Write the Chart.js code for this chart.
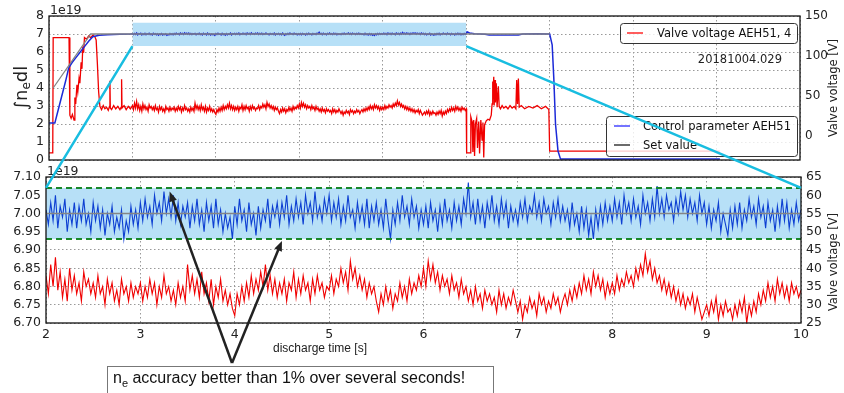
<!DOCTYPE html>
<html>
<head>
<meta charset="utf-8">
<script src="https://cdn.jsdelivr.net/npm/chart.js@4.4.1/dist/chart.umd.min.js"></script>
<style>
  html, body { margin: 0; padding: 0; background: #fff; }
  #wrap { position: relative; width: 844px; height: 393px; }
  #wrap canvas { position: absolute; left: 0; top: 0; }
</style>
</head>
<body>
<div id="wrap">
  <canvas id="overviewChart" width="844" height="393"></canvas>
  <canvas id="zoomChart" width="844" height="393"></canvas>
</div>
<script>
// Zoomed window 2..10 s, one sample every 0.025 s
const zoomStart = 2;
const zoomStep = 0.025;

// line integrated density, 1e19 (one row = 0.5 s)
const zoomDensity = [
  7.01, 6.97, 7.03, 6.98, 7.05, 6.96, 7.02, 6.99, 7.04, 6.95, 7.01, 6.97, 7.03, 6.96, 7.02, 6.98, 7.04, 6.97, 7.00, 6.95,
  7.03, 6.98, 7.02, 6.96, 7.01, 6.94, 7.00, 6.97, 7.02, 6.95, 6.99, 6.96, 7.01, 6.93, 6.98, 6.95, 7.02, 6.97, 7.01, 6.96,
  7.03, 6.98, 7.04, 6.99, 7.02, 6.97, 7.05, 7.00, 7.03, 6.98, 7.06, 7.00, 7.04, 6.99, 7.05, 6.98, 7.03, 6.97, 7.02, 6.99,
  7.03, 6.96, 7.02, 6.98, 7.04, 6.97, 7.01, 6.95, 7.03, 6.98, 7.02, 6.96, 7.04, 6.97, 7.01, 6.95, 7.00, 6.96, 6.99, 6.93,
  7.02, 6.97, 7.04, 6.98, 7.01, 6.95, 7.03, 6.97, 7.00, 6.94, 7.02, 6.96, 7.01, 6.98, 7.04, 6.96, 7.02, 6.99, 7.03, 6.97,
  7.03, 6.99, 7.05, 6.97, 7.02, 6.98, 7.04, 6.99, 7.03, 6.97, 7.05, 7.00, 7.03, 6.98, 7.06, 6.99, 7.02, 6.98, 7.04, 7.00,
  7.05, 6.98, 7.03, 6.99, 7.04, 6.97, 7.02, 6.98, 7.05, 6.99, 7.01, 6.96, 7.03, 6.98, 7.02, 6.97, 7.04, 6.96, 7.02, 6.98,
  7.03, 6.97, 7.01, 6.96, 7.04, 6.98, 6.93, 7.01, 6.97, 7.03, 6.98, 7.05, 6.99, 7.02, 6.97, 7.04, 6.99, 7.02, 6.96, 7.01,
  6.97, 7.02, 6.96, 7.03, 6.98, 7.01, 6.95, 7.02, 6.97, 7.04, 6.98, 7.01, 6.96, 7.03, 6.98, 7.02, 6.97, 7.04, 7.00, 7.085,
  6.99, 7.03, 6.97, 7.04, 6.98, 7.02, 6.96, 7.03, 6.99, 7.05, 6.98, 7.02, 6.97, 7.04, 6.99, 7.03, 6.96, 7.02, 6.98, 7.01,
  6.97, 7.03, 6.99, 7.04, 6.98, 7.02, 7.00, 7.05, 6.99, 7.03, 6.98, 7.04, 7.00, 7.02, 6.97, 7.03, 6.99, 7.04, 6.98, 7.02,
  6.98, 7.01, 6.96, 7.03, 6.97, 7.00, 6.95, 7.02, 6.96, 7.01, 6.94, 6.99, 6.93, 7.01, 6.96, 7.02, 6.97, 7.03, 6.98, 7.02,
  6.98, 7.04, 6.99, 7.03, 6.97, 7.05, 7.00, 7.03, 6.98, 7.04, 6.99, 7.02, 6.97, 7.05, 7.00, 7.03, 6.98, 7.04, 6.99, 7.075,
  7.00, 7.04, 6.99, 7.05, 7.01, 7.03, 6.98, 7.04, 7.00, 7.06, 7.01, 7.05, 6.99, 7.04, 7.00, 7.03, 6.98, 7.05, 7.00, 7.03,
  6.97, 7.02, 6.96, 7.01, 6.98, 7.03, 6.95, 7.00, 6.97, 6.94, 7.01, 6.96, 7.02, 6.97, 7.03, 6.96, 7.01, 6.98, 7.04, 6.99,
  7.02, 6.97, 7.04, 6.99, 7.02, 6.96, 7.03, 6.98, 7.01, 6.95, 7.02, 6.97, 7.04, 6.98, 7.03, 6.96, 7.01, 6.97, 7.03, 6.98,
  7.01
];

// valve voltage, V (one row = 0.5 s)
const zoomValve = [
  38, 33, 41, 35, 43, 34, 39, 32, 37, 31, 40, 34, 38, 33, 36, 31, 39, 35, 37, 33,
  36, 32, 38, 33, 35, 30, 37, 33, 36, 31, 34, 30, 37, 33, 35, 31, 36, 32, 35, 33,
  36, 31, 35, 32, 37, 33, 36, 30, 35, 32, 38, 33, 35, 31, 34, 30, 36, 32, 35, 31,
  41, 34, 38, 33, 37, 32, 39, 33, 36, 31, 37, 30, 35, 32, 37, 31, 34, 30, 33, 29,
  27, 33, 30, 35, 31, 36, 32, 38, 33, 37, 34, 39, 35, 41, 34, 38, 33, 37, 32, 36,
  33, 37, 31, 36, 34, 39, 32, 37, 33, 38, 34, 36, 31, 37, 33, 38, 34, 36, 32, 35,
  34, 38, 33, 37, 35, 40, 36, 39, 34, 42, 37, 40, 35, 38, 34, 37, 32, 36, 33, 35,
  31, 28, 33, 30, 35, 31, 34, 29, 33, 31, 36, 32, 35, 31, 37, 33, 36, 34, 38, 35,
  40, 35, 42, 37, 41, 36, 39, 34, 38, 35, 37, 33, 38, 34, 36, 32, 37, 33, 35, 31,
  34, 30, 35, 31, 33, 29, 34, 31, 33, 30, 32, 28, 34, 30, 33, 29, 32, 30, 34, 31,
  28, 31, 26, 30, 28, 32, 29, 31, 27, 33, 30, 32, 28, 31, 29, 33, 30, 32, 28, 31,
  33, 30, 34, 31, 35, 32, 36, 33, 38, 34, 37, 33, 39, 35, 38, 34, 37, 32, 36, 33,
  36, 33, 38, 34, 37, 35, 39, 36, 38, 35, 40, 37, 41, 38, 44, 39, 42, 37, 40, 36,
  38, 34, 37, 33, 36, 32, 35, 31, 34, 30, 33, 29, 32, 30, 33, 28, 32, 29, 26, 28,
  30, 27, 31, 28, 32, 26, 30, 27, 31, 28, 29, 26, 30, 27, 31, 28, 32, 25, 30, 27,
  31, 28, 33, 30, 34, 31, 36, 32, 35, 31, 37, 33, 36, 32, 35, 31, 36, 33, 35, 32,
  34
];

// Overview traces outside the zoom window, [time s, value]
const valveBefore = [
  [0, -21], [0.09, -21], [0.1, 123], [0.48, 123], [0.5, 26], [0.53, 22], [0.56, 27], [0.6, 20],
  [0.62, 48], [0.64, 40], [0.67, 64], [0.69, 55], [0.72, 72], [0.74, 66], [0.77, 92], [0.79, 84],
  [0.81, 112], [0.83, 104], [0.85, 123], [0.9, 121], [0.95, 125], [1.0, 123], [1.05, 126], [1.1, 124],
  [1.13, 120], [1.16, 90], [1.19, 55], [1.22, 37], [1.26, 33], [1.3, 38], [1.34, 34], [1.38, 36],
  [1.42, 32], [1.45, 37], [1.46, 69], [1.47, 35], [1.5, 33], [1.55, 38], [1.6, 34], [1.65, 37],
  [1.7, 33], [1.73, 36], [1.74, 71], [1.75, 35], [1.8, 38], [1.85, 33], [1.9, 37], [1.95, 34]
];
const valveAfter = [
  [10.01, -21], [10.1, -21], [10.11, 24], [10.14, 18], [10.16, -20], [10.18, 20], [10.2, -25], [10.22, 15],
  [10.25, 22], [10.27, -15], [10.3, 18], [10.32, -22], [10.35, 20], [10.38, -5], [10.4, 17], [10.42, -27],
  [10.44, 14], [10.48, 19], [10.52, 21], [10.56, 20], [10.6, 26], [10.62, 40], [10.63, 68], [10.64, 45],
  [10.66, 74], [10.67, 38], [10.69, 70], [10.7, 42], [10.72, 66], [10.74, 36], [10.77, 62], [10.79, 37],
  [10.82, 34], [10.86, 38], [10.9, 35], [10.95, 37], [11.0, 34], [11.05, 38], [11.1, 35], [11.15, 37],
  [11.19, 34], [11.21, 70], [11.23, 40], [11.25, 72], [11.27, 36], [11.32, 38], [11.4, 34], [11.5, 37],
  [11.6, 35], [11.7, 38], [11.8, 34], [11.9, 37], [11.98, 33], [12.0, -19], [16.08, -19]
];
const densityBefore = [
  [0, 2.05], [0.14, 2.05], [0.2, 2.6], [0.3, 3.5], [0.4, 4.4], [0.47, 5.1], [0.55, 5.4], [0.65, 5.7],
  [0.75, 6.0], [0.85, 6.3], [0.95, 6.6], [1.05, 6.85], [1.2, 6.93], [1.4, 6.96], [1.7, 6.98], [1.95, 7.0]
];
const densityAfter = [
  [10.02, 7.12], [10.08, 7.06], [10.2, 7.02], [10.45, 6.99], [10.55, 6.95], [11.0, 6.94], [11.25, 6.95],
  [11.35, 7.0], [11.7, 7.01], [12.0, 7.0], [12.06, 6.4], [12.1, 4.5], [12.14, 2.0], [12.2, 0.5],
  [12.26, 0.05], [16.08, 0.05]
];
const setValue = [[0.1, 4.0], [1.0, 7.0], [12.0, 7.0]];

const zoomWindow = [2, 10];         // s
const zoomBox = [6.33, 7.63];       // marked box in the overview, 1e19
const accuracyBand = [6.93, 7.07];  // +-1 % around the set value
const setLevel = 7.0;
const valveTicksTop = [0, 50, 100, 150];

Chart.defaults.font.family = "'DejaVu Sans', sans-serif";
Chart.defaults.font.size = 12;
Chart.defaults.color = '#222';

const toPoints = pairs => pairs.map(([x, y]) => ({ x, y }));
const zoomTimes = zoomDensity.map((_, i) => +(zoomStart + i * zoomStep).toFixed(3));
const zoomDensityPts = zoomDensity.map((y, i) => ({ x: zoomTimes[i], y }));
const zoomValvePts = zoomValve.map((y, i) => ({ x: zoomTimes[i], y }));
const flat = (y, range) => [{ x: range[0], y }, { x: range[1], y }];

const dottedGrid = { color: '#999', lineWidth: 1, drawTicks: false };
const dottedBorder = { display: false, dash: [1.5, 2.5] };

function drawParts(ctx, parts, x, y) {
    // parts: [text, fontSize, baselineShift, family]
    let total = 0;
    parts.forEach(p => { ctx.font = p[1] + 'px ' + p[3]; total += ctx.measureText(p[0]).width; });
    let cx = x - total / 2;
    parts.forEach(p => {
        ctx.font = p[1] + 'px ' + p[3];
        ctx.fillText(p[0], cx, y + p[2]);
        cx += ctx.measureText(p[0]).width;
    });
}

function rotatedText(ctx, text, x, y, font) {
    ctx.save();
    ctx.translate(x, y);
    ctx.rotate(-Math.PI / 2);
    ctx.font = font;
    ctx.textAlign = 'center';
    ctx.textBaseline = 'middle';
    ctx.fillText(text, 0, 0);
    ctx.restore();
}

function legendBox(ctx, x, y, w, h, items, lineX, textX) {
    ctx.save();
    ctx.beginPath();
    ctx.roundRect(x + 0.5, y + 0.5, w, h, 3);
    ctx.fillStyle = 'rgba(255,255,255,0.8)';
    ctx.fill();
    ctx.strokeStyle = '#333';
    ctx.lineWidth = 1;
    ctx.stroke();
    ctx.font = "11.5px 'DejaVu Sans'";
    ctx.textAlign = 'left';
    ctx.textBaseline = 'middle';
    items.forEach(it => {
        ctx.strokeStyle = it.color;
        ctx.lineWidth = 2;
        ctx.beginPath();
        ctx.moveTo(lineX, it.y);
        ctx.lineTo(lineX + 16, it.y);
        ctx.stroke();
        ctx.fillStyle = '#111';
        ctx.fillText(it.label, textX, it.y + 1);
    });
    ctx.restore();
}

const overviewDecor = {
    id: 'overviewDecor',
    afterDraw(chart) {
        const { ctx, chartArea: a } = chart;
        ctx.save();
        ctx.strokeStyle = '#111';
        ctx.lineWidth = 1.3;
        ctx.strokeRect(a.left, a.top, a.right - a.left, a.bottom - a.top);
        ctx.fillStyle = '#222';
        ctx.font = "12.5px 'DejaVu Sans'";
        ctx.textBaseline = 'bottom';
        ctx.fillText('1e19', a.left + 1, a.top + 1);

        // left axis title with subscript
        ctx.save();
        ctx.translate(22, (a.top + a.bottom) / 2);
        ctx.rotate(-Math.PI / 2);
        ctx.textBaseline = 'middle';
        drawParts(ctx, [['\u222Bn', 18, 0, "'DejaVu Sans'"], ['e', 12, 5, "'DejaVu Sans'"], ['dl', 18, 0, "'DejaVu Sans'"]], 0, 0);
        ctx.restore();

        ctx.fillStyle = '#222';
        rotatedText(ctx, 'Valve voltage [V]', 834, (a.top + a.bottom) / 2, "11.5px 'DejaVu Sans'");

        ctx.font = "11.5px 'DejaVu Sans'";
        ctx.textAlign = 'right';
        ctx.textBaseline = 'middle';
        ctx.fillText('20181004.029', a.right - 18, a.top + 44);

        legendBox(ctx, 620, 23, 177, 20,
            [{ label: 'Valve voltage AEH51, 4', color: 'rgba(255,40,40,0.75)', y: 33 }], 627, 657);
        legendBox(ctx, 606, 116, 191, 40,
            [{ label: 'Control parameter AEH51', color: 'rgba(70,70,255,0.75)', y: 126 },
             { label: 'Set value', color: 'rgba(70,70,70,0.8)', y: 145 }], 614, 643);
        ctx.restore();
    }
};

const overviewChart = new Chart(document.getElementById('overviewChart'), {
    type: 'line',
    data: {
        datasets: [
            { label: 'Set value', data: toPoints(setValue), borderColor: '#858585', borderWidth: 1.3, yAxisID: 'y', order: 0 },
            { label: 'Control parameter AEH51', data: [...toPoints(densityBefore), ...zoomDensityPts, ...toPoints(densityAfter)],
              borderColor: '#1c2ad8', borderWidth: 1.5, yAxisID: 'y', order: 1 },
            { label: 'Valve voltage AEH51, 4', data: [...toPoints(valveBefore), ...zoomValvePts, ...toPoints(valveAfter)],
              borderColor: '#f00000', borderWidth: 1.3, yAxisID: 'yV', order: 2 },
            { label: 'zoom window', data: flat(zoomBox[1], zoomWindow), borderColor: 'transparent', borderWidth: 0,
              backgroundColor: '#b7e0f7', fill: { value: zoomBox[0] }, yAxisID: 'y', order: 3 }
        ]
    },
    options: {
        responsive: false,
        animation: false,
        events: [],
        layout: { padding: { top: 16 } },
        elements: { point: { radius: 0 }, line: { tension: 0 } },
        plugins: { legend: { display: false }, tooltip: { enabled: false } },
        scales: {
            x: { type: 'linear', min: 0, max: 18, ticks: { stepSize: 2, display: false },
                 grid: dottedGrid, border: dottedBorder, afterFit: s => { s.height = 233; } },
            y: { position: 'left', min: 0, max: 8, ticks: { stepSize: 1, padding: 5, autoSkip: false, font: { size: 12.5 } },
                 grid: dottedGrid, border: dottedBorder, afterFit: s => { s.width = 49; } },
            yV: { position: 'right', min: -30, max: 150,
                  afterBuildTicks: s => { s.ticks = valveTicksTop.map(v => ({ value: v })); },
                  ticks: { padding: 5, autoSkip: false, font: { size: 12 } },
                  grid: { drawOnChartArea: false, drawTicks: false }, border: { display: false },
                  afterFit: s => { s.width = 44; } }
        }
    },
    plugins: [overviewDecor]
});

function arrow(ctx, x0, y0, x1, y1) {
    const ang = Math.atan2(y1 - y0, x1 - x0);
    const len = 10, half = 4;
    ctx.beginPath();
    ctx.moveTo(x0, y0);
    ctx.lineTo(x1 - Math.cos(ang) * len * 0.8, y1 - Math.sin(ang) * len * 0.8);
    ctx.stroke();
    ctx.beginPath();
    ctx.moveTo(x1, y1);
    ctx.lineTo(x1 - Math.cos(ang) * len - Math.sin(ang) * half, y1 - Math.sin(ang) * len + Math.cos(ang) * half);
    ctx.lineTo(x1 - Math.cos(ang) * len + Math.sin(ang) * half, y1 - Math.sin(ang) * len - Math.cos(ang) * half);
    ctx.closePath();
    ctx.fill();
}

const zoomDecor = {
    id: 'zoomDecor',
    afterDraw(chart) {
        const { ctx, chartArea: a, scales } = chart;
        ctx.save();
        ctx.strokeStyle = '#111';
        ctx.lineWidth = 1.3;
        ctx.strokeRect(a.left, a.top, a.right - a.left, a.bottom - a.top);

        ctx.fillStyle = '#222';
        ctx.font = "12.5px 'DejaVu Sans'";
        ctx.textBaseline = 'bottom';
        ctx.fillText('1e19', a.left + 1, a.top + 1);

        ctx.font = "12px 'Liberation Sans', Arial, sans-serif";
        ctx.textAlign = 'center';
        ctx.textBaseline = 'middle';
        ctx.fillText('discharge time [s]', 320, 349);
        rotatedText(ctx, 'Valve voltage [V]', 834, 262, "11.5px 'DejaVu Sans'");

        // connectors from the marked box in the overview to this panel
        const ox = overviewChart.scales.x, oy = overviewChart.scales.y;
        const yBand = scales.y.getPixelForValue(accuracyBand[1]);
        ctx.strokeStyle = '#18bde0';
        ctx.lineWidth = 2.5;
        ctx.beginPath();
        ctx.moveTo(ox.getPixelForValue(zoomWindow[0]), oy.getPixelForValue(zoomBox[0]));
        ctx.lineTo(a.left, yBand);
        ctx.moveTo(ox.getPixelForValue(zoomWindow[1]), oy.getPixelForValue(zoomBox[0]));
        ctx.lineTo(a.right, yBand);
        ctx.stroke();

        // arrows to the band edges
        ctx.strokeStyle = '#222';
        ctx.fillStyle = '#222';
        ctx.lineWidth = 2.5;
        const bx = 232, by = 363;
        arrow(ctx, bx, by, scales.x.getPixelForValue(3.31), scales.y.getPixelForValue(7.06));
        arrow(ctx, bx, by, scales.x.getPixelForValue(4.5), scales.y.getPixelForValue(6.925));

        // note box
        ctx.fillStyle = '#fff';
        ctx.fillRect(107, 366, 386, 30);
        ctx.strokeStyle = '#777';
        ctx.lineWidth = 1;
        ctx.strokeRect(107.5, 366.5, 386, 30);
        ctx.fillStyle = '#111';
        ctx.textAlign = 'left';
        ctx.textBaseline = 'alphabetic';
        const ff = "'Liberation Sans', Arial, sans-serif";
        let tx = 113;
        ctx.font = '16px ' + ff;
        ctx.fillText('n', tx, 383);
        tx += ctx.measureText('n').width;
        ctx.font = '11px ' + ff;
        ctx.fillText('e', tx, 387);
        tx += ctx.measureText('e').width;
        ctx.font = '16px ' + ff;
        ctx.fillText(' accuracy better than 1% over several seconds!', tx, 383);
        ctx.restore();
    }
};

new Chart(document.getElementById('zoomChart'), {
    type: 'line',
    data: {
        datasets: [
            { label: 'Set value', data: flat(setLevel, zoomWindow), borderColor: '#858585', borderWidth: 1.5, yAxisID: 'y', order: 0 },
            { label: 'upper limit', data: flat(accuracyBand[1], zoomWindow), borderColor: '#17882a', borderWidth: 2,
              borderDash: [6, 4], yAxisID: 'y', order: 1 },
            { label: 'lower limit', data: flat(accuracyBand[0], zoomWindow), borderColor: '#17882a', borderWidth: 2,
              borderDash: [6, 4], yAxisID: 'y', order: 1 },
            { label: 'Control parameter AEH51', data: zoomDensityPts, borderColor: '#0d3fd2', borderWidth: 1.1, yAxisID: 'y', order: 2 },
            { label: 'Valve voltage AEH51, 4', data: zoomValvePts, borderColor: '#f00000', borderWidth: 1.1, yAxisID: 'yV', order: 3 },
            { label: 'band', data: flat(accuracyBand[1], zoomWindow), borderColor: 'transparent', borderWidth: 0,
              backgroundColor: '#b7e0f7', fill: { value: accuracyBand[0] }, yAxisID: 'y', order: 4 }
        ]
    },
    options: {
        responsive: false,
        animation: false,
        events: [],
        layout: { padding: { top: 177 } },
        elements: { point: { radius: 0 }, line: { tension: 0 } },
        plugins: { legend: { display: false }, tooltip: { enabled: false } },
        scales: {
            x: { type: 'linear', min: 2, max: 10, ticks: { stepSize: 1, padding: 4, font: { size: 12.5 } },
                 grid: dottedGrid, border: dottedBorder, afterFit: s => { s.height = 70; } },
            y: { position: 'left', min: 6.7, max: 7.1,
                 ticks: { stepSize: 0.05, padding: 5, autoSkip: false, font: { size: 12.5 }, callback: v => v.toFixed(2) },
                 grid: dottedGrid, border: dottedBorder, afterFit: s => { s.width = 46; } },
            yV: { position: 'right', min: 25, max: 65,
                  ticks: { stepSize: 5, padding: 5, autoSkip: false, font: { size: 12.5 } },
                  grid: { drawOnChartArea: false, drawTicks: false }, border: { display: false },
                  afterFit: s => { s.width = 43; } }
        }
    },
    plugins: [zoomDecor]
});
</script>
</body>
</html>
